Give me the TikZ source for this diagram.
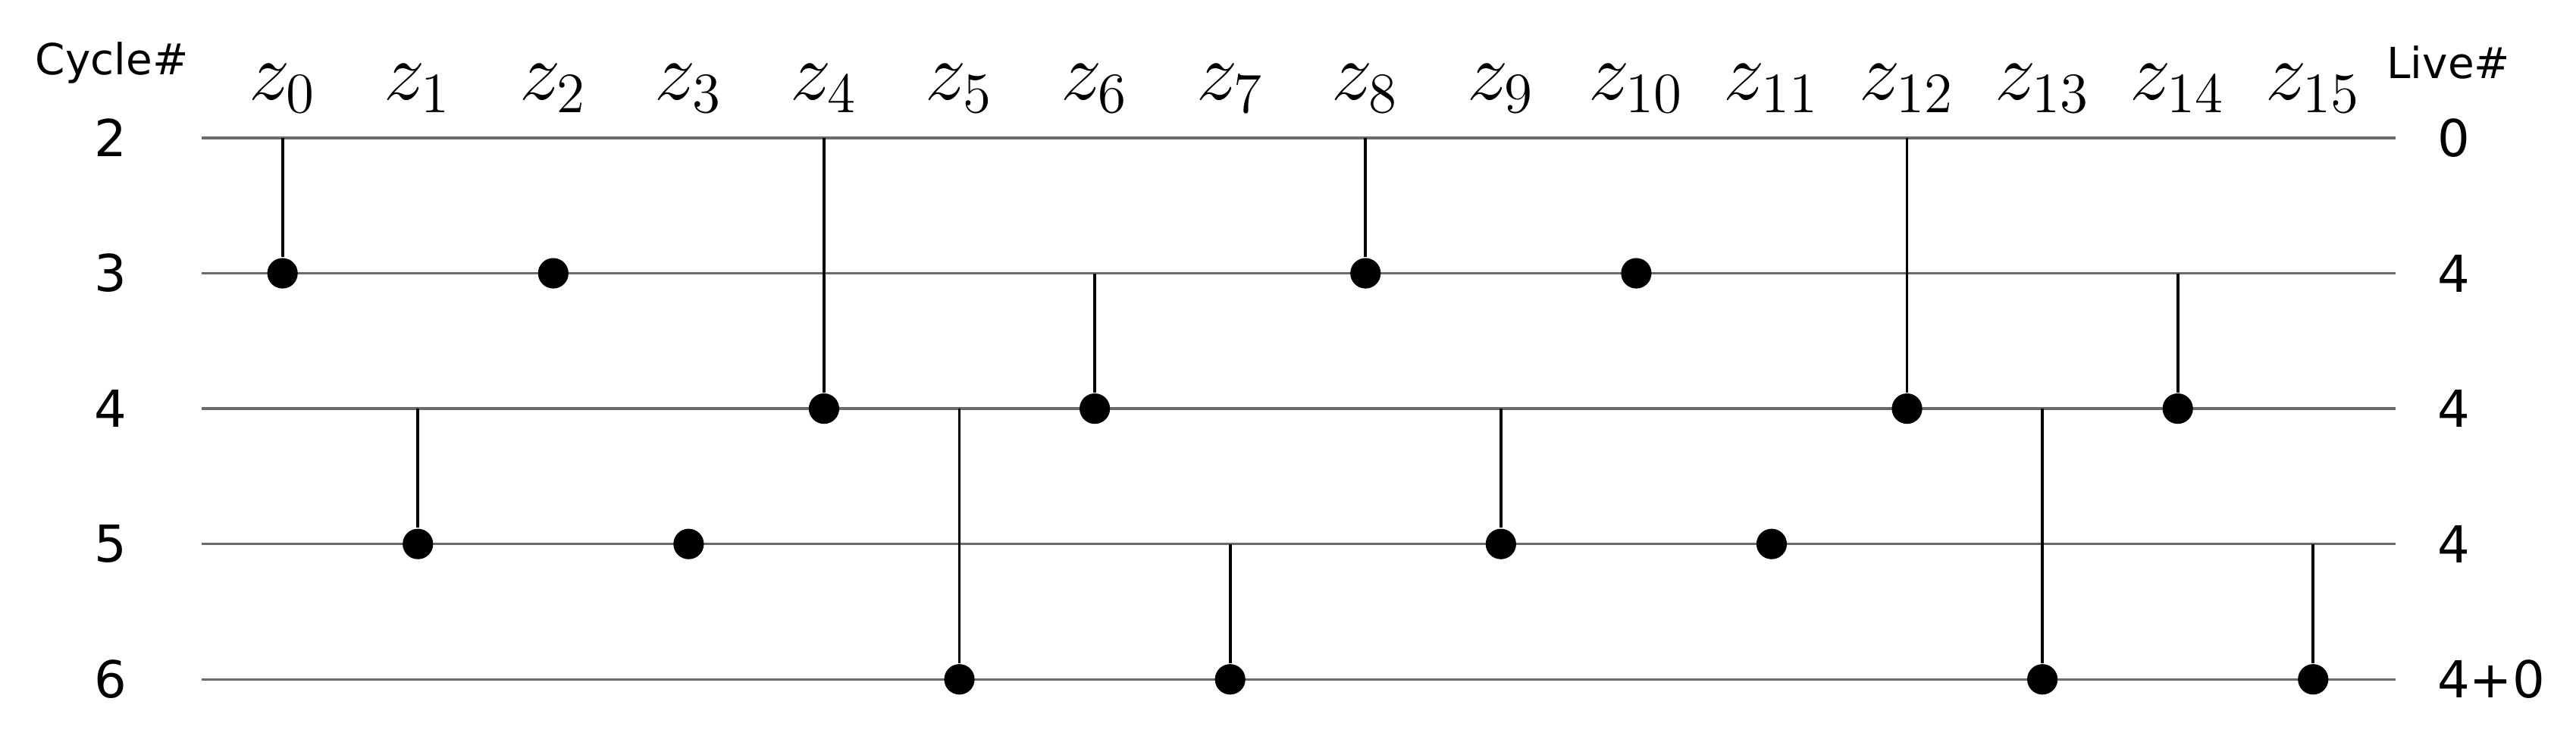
\documentclass[tikz,border=0pt]{standalone}
\usepackage[no-math]{fontspec}
\newfontfamily\dejavu{DejaVu Sans}

\tikzset{
  rowline/.style={draw=black!58, line width=0.55pt},
  link/.style={draw=black, line width=0.6pt},
  dot/.style={circle, fill=black, inner sep=0pt, minimum size=0.225cm},
  zlab/.style={anchor=base, inner sep=0pt, font=\fontsize{18}{20}\selectfont},
  cycnum/.style={inner sep=0pt, font=\dejavu\fontsize{10.7}{12}\selectfont},
  livenum/.style={anchor=west, inner sep=0pt, font=\dejavu\fontsize{10.7}{12}\selectfont},
  head/.style={anchor=base, inner sep=0pt, font=\dejavu\fontsize{9}{11}\selectfont},
}

\begin{document}
\begin{tikzpicture}
        \useasboundingbox (-2.087,-4.418) rectangle (16.942,1.019);

        % headers
        \node [head] (cychead) at (-1.26, 0.468) {Cycle\#};
        \node [head] (livehead) at (16.0, 0.44) {Live\#};

        % variable names
        \node [zlab] (z0) at (0, 0.28) {$z_0$};
        \node [zlab] (z1) at (1, 0.28) {$z_1$};
        \node [zlab] (z2) at (2, 0.28) {$z_2$};
        \node [zlab] (z3) at (3, 0.28) {$z_3$};
        \node [zlab] (z4) at (4, 0.28) {$z_4$};
        \node [zlab] (z5) at (5, 0.28) {$z_5$};
        \node [zlab] (z6) at (6, 0.28) {$z_6$};
        \node [zlab] (z7) at (7, 0.28) {$z_7$};
        \node [zlab] (z8) at (8, 0.28) {$z_8$};
        \node [zlab] (z9) at (9, 0.28) {$z_9$};
        \node [zlab] (z10) at (10, 0.28) {$z_{10}$};
        \node [zlab] (z11) at (11, 0.28) {$z_{11}$};
        \node [zlab] (z12) at (12, 0.28) {$z_{12}$};
        \node [zlab] (z13) at (13, 0.28) {$z_{13}$};
        \node [zlab] (z14) at (14, 0.28) {$z_{14}$};
        \node [zlab] (z15) at (15, 0.28) {$z_{15}$};

        % cycle rows
        \coordinate (r2w) at (-0.595, 0);  \coordinate (r2e) at (15.607, 0);
        \coordinate (r3w) at (-0.595, -1); \coordinate (r3e) at (15.607, -1);
        \coordinate (r4w) at (-0.595, -2); \coordinate (r4e) at (15.607, -2);
        \coordinate (r5w) at (-0.595, -3); \coordinate (r5e) at (15.607, -3);
        \coordinate (r6w) at (-0.595, -4); \coordinate (r6e) at (15.607, -4);
        \draw [rowline] (r2w) -- (r2e);
        \draw [rowline] (r3w) -- (r3e);
        \draw [rowline] (r4w) -- (r4e);
        \draw [rowline] (r5w) -- (r5e);
        \draw [rowline] (r6w) -- (r6e);

        \node [cycnum] (c2) at (-1.27, 0) {2};
        \node [cycnum] (c3) at (-1.27, -1) {3};
        \node [cycnum] (c4) at (-1.27, -2) {4};
        \node [cycnum] (c5) at (-1.27, -3) {5};
        \node [cycnum] (c6) at (-1.27, -4) {6};

        \node [livenum] (l2) at (15.91, 0) {0};
        \node [livenum] (l3) at (15.91, -1) {4};
        \node [livenum] (l4) at (15.91, -2) {4};
        \node [livenum] (l5) at (15.91, -3) {4};
        \node [livenum] (l6) at (15.91, -4) {4+0};

        % live ranges
        \coordinate (s0) at (0, 0);
        \coordinate (s1) at (1, -2);
        \coordinate (s4) at (4, 0);
        \coordinate (s5) at (5, -2);
        \coordinate (s6) at (6, -1);
        \coordinate (s7) at (7, -3);
        \coordinate (s8) at (8, 0);
        \coordinate (s9) at (9, -2);
        \coordinate (s12) at (12, 0);
        \coordinate (s13) at (13, -2);
        \coordinate (s14) at (14, -1);
        \coordinate (s15) at (15, -3);

        \node [dot] (d0) at (0, -1) {};
        \node [dot] (d1) at (1, -3) {};
        \node [dot] (d2) at (2, -1) {};
        \node [dot] (d3) at (3, -3) {};
        \node [dot] (d4) at (4, -2) {};
        \node [dot] (d5) at (5, -4) {};
        \node [dot] (d6) at (6, -2) {};
        \node [dot] (d7) at (7, -4) {};
        \node [dot] (d8) at (8, -1) {};
        \node [dot] (d9) at (9, -3) {};
        \node [dot] (d10) at (10, -1) {};
        \node [dot] (d11) at (11, -3) {};
        \node [dot] (d12) at (12, -2) {};
        \node [dot] (d13) at (13, -4) {};
        \node [dot] (d14) at (14, -2) {};
        \node [dot] (d15) at (15, -4) {};

        \draw [link] (s0) -- (d0);
        \draw [link] (s1) -- (d1);
        \draw [link] (s4) -- (d4);
        \draw [link] (s5) -- (d5);
        \draw [link] (s6) -- (d6);
        \draw [link] (s7) -- (d7);
        \draw [link] (s8) -- (d8);
        \draw [link] (s9) -- (d9);
        \draw [link] (s12) -- (d12);
        \draw [link] (s13) -- (d13);
        \draw [link] (s14) -- (d14);
        \draw [link] (s15) -- (d15);
      \end{tikzpicture}
\end{document}
